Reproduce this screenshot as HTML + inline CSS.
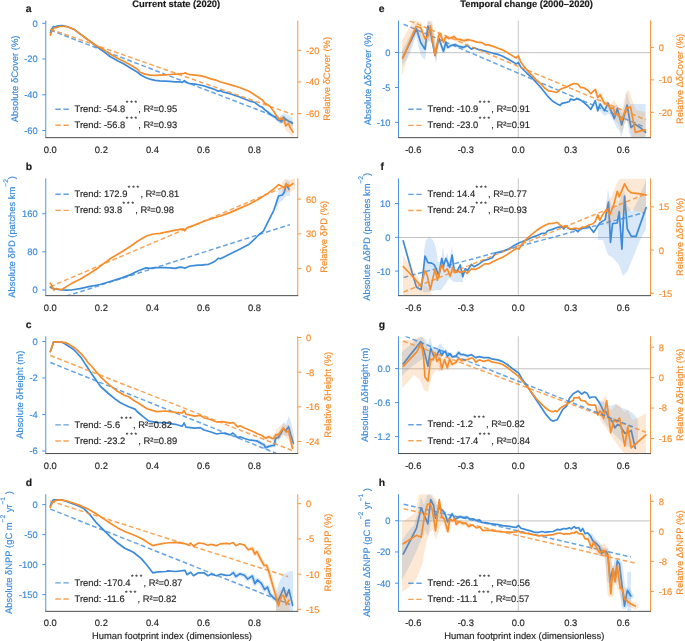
<!DOCTYPE html>
<html><head><meta charset="utf-8"><style>
html,body{margin:0;padding:0;background:#fff;}
svg{display:block;will-change:transform;text-rendering:geometricPrecision;}
svg text{font-family:"Liberation Sans",sans-serif;}
</style></head><body>
<svg width="685" height="641" viewBox="0 0 685 641" font-size="9.4" font-family="Liberation Sans, sans-serif">
<rect width="685" height="641" fill="#fff"/>
<g id="pa">
<clipPath id="clipa"><rect x="45.75" y="20.5" width="252.0" height="116.80000000000001"/></clipPath>
<g clip-path="url(#clipa)">
<polygon points="276.0,115.0 280.0,117.0 283.6,113.0 288.0,115.0 292.5,118.0 293.0,126.0 290.0,126.0 286.0,123.0 283.6,122.0 280.0,124.0 276.0,120.0" fill="#3c8ada" fill-opacity="0.2" stroke="none"/>
<polyline points="268.2,112.4 271.9,115.3 275.5,117.5 277.7,119.6 279.9,120.4 281.4,121.9 283.6,117.5" fill="none" stroke="#3c8ada" stroke-opacity="0.2" stroke-width="3.5" stroke-linejoin="round" stroke-linecap="round"/>
<line x1="50.3" y1="30.2" x2="293" y2="123.3" stroke="#3c8ada" stroke-width="1.5" stroke-dasharray="4.8,2.7" opacity="0.78"/>
<polyline points="50.4,32.9 51.6,29.4 53.3,26.6 55.5,26.8 58.1,25.9 62.5,25.7 65.6,26.3 69.5,27.5 74.8,29.8 80.0,33.8 85.3,37.7 90.5,41.7 95.8,46.0 101.0,49.5 105.0,52.6 110.0,56.5 118.0,61.0 124.0,64.0 128.0,66.5 137.5,72.2 140.0,74.5 145.0,77.2 150.0,79.2 155.0,80.3 160.0,80.9 165.0,81.1 170.0,81.3 175.0,81.8 180.0,81.8 182.0,82.5 184.5,80.6 187.0,82.7 190.0,83.6 195.0,84.1 200.0,85.0 205.0,86.2 210.0,87.9 215.0,89.5 218.0,91.2 220.5,90.6 223.0,92.0 226.0,92.6 230.0,93.8 239.6,97.0 249.0,100.8 250.0,101.1 254.4,102.2 259.5,106.2 261.7,106.9 264.6,109.5 268.2,112.4 271.9,115.3 275.5,117.5 277.7,119.6 279.9,120.4 281.4,121.9 283.6,117.5 285.8,119.3 288.7,121.2 290.9,121.9 292.3,123.4" fill="none" stroke="#3c8ada" stroke-width="1.7" stroke-linejoin="round" stroke-linecap="round"/>
<polygon points="280.0,115.0 283.6,116.0 286.0,119.0 289.0,119.0 293.0,124.0 293.0,137.5 289.0,133.0 286.0,131.0 283.6,124.0 280.0,122.0" fill="#f78c2b" fill-opacity="0.2" stroke="none"/>
<line x1="50.3" y1="29.2" x2="293" y2="114.5" stroke="#f78c2b" stroke-width="1.5" stroke-dasharray="4.8,2.7" opacity="0.78"/>
<polyline points="50.4,35.1 51.6,31.6 52.9,29.4 54.2,27.8 56.4,27.6 59.9,26.5 65.6,26.3 69.5,27.5 74.8,29.8 80.0,33.8 85.3,37.7 90.5,41.5 95.8,45.2 101.0,48.2 105.0,50.6 110.0,54.0 118.0,58.5 124.0,61.5 128.0,63.6 137.5,69.3 140.0,72.2 145.0,74.1 150.0,75.1 155.0,75.3 160.0,75.1 165.0,74.8 170.0,74.5 175.0,74.2 180.0,73.9 184.0,73.3 185.5,72.9 187.5,74.0 190.0,74.7 195.0,75.1 200.0,75.7 205.0,76.8 210.0,78.6 215.0,79.8 220.0,81.8 230.0,84.6 239.6,87.5 249.0,91.3 258.6,97.5 262.4,100.0 264.6,102.9 268.2,105.1 270.4,106.9 273.4,110.9 276.3,115.3 278.8,119.3 280.7,118.6 282.1,118.2 283.6,119.7 285.8,125.9 288.3,123.7 290.5,128.1 293.1,132.1" fill="none" stroke="#f78c2b" stroke-width="1.7" stroke-linejoin="round" stroke-linecap="round"/>
</g>
<line x1="45.75" y1="20.5" x2="45.75" y2="137.65" stroke="#3c8ada" stroke-width="0.9"/>
<line x1="297.75" y1="20.5" x2="297.75" y2="137.65" stroke="#f78c2b" stroke-width="0.9"/>
<line x1="45.3" y1="137.65" x2="298.2" y2="137.65" stroke="#383838" stroke-width="0.9"/>
<line x1="42.25" y1="23.30" x2="45.75" y2="23.30" stroke="#3c8ada" stroke-width="0.9"/>
<text x="37.75" y="26.70" text-anchor="end" fill="#3c8ada" stroke="#3c8ada" stroke-width="0.16">0</text>
<line x1="42.25" y1="59.03" x2="45.75" y2="59.03" stroke="#3c8ada" stroke-width="0.9"/>
<text x="37.75" y="62.43" text-anchor="end" fill="#3c8ada" stroke="#3c8ada" stroke-width="0.16">-20</text>
<line x1="42.25" y1="94.77" x2="45.75" y2="94.77" stroke="#3c8ada" stroke-width="0.9"/>
<text x="37.75" y="98.17" text-anchor="end" fill="#3c8ada" stroke="#3c8ada" stroke-width="0.16">-40</text>
<line x1="42.25" y1="130.50" x2="45.75" y2="130.50" stroke="#3c8ada" stroke-width="0.9"/>
<text x="37.75" y="133.90" text-anchor="end" fill="#3c8ada" stroke="#3c8ada" stroke-width="0.16">-60</text>
<line x1="297.75" y1="50.30" x2="301.25" y2="50.30" stroke="#f78c2b" stroke-width="0.9"/>
<text x="305.95" y="53.70" fill="#f78c2b" stroke="#f78c2b" stroke-width="0.16">-20</text>
<line x1="297.75" y1="81.90" x2="301.25" y2="81.90" stroke="#f78c2b" stroke-width="0.9"/>
<text x="305.95" y="85.30" fill="#f78c2b" stroke="#f78c2b" stroke-width="0.16">-40</text>
<line x1="297.75" y1="113.50" x2="301.25" y2="113.50" stroke="#f78c2b" stroke-width="0.9"/>
<text x="305.95" y="116.90" fill="#f78c2b" stroke="#f78c2b" stroke-width="0.16">-60</text>
<text x="50.30" y="152.60" text-anchor="middle" fill="#262626" stroke="#262626" stroke-width="0.16">0.0</text>
<text x="101.35" y="152.60" text-anchor="middle" fill="#262626" stroke="#262626" stroke-width="0.16">0.2</text>
<text x="152.40" y="152.60" text-anchor="middle" fill="#262626" stroke="#262626" stroke-width="0.16">0.4</text>
<text x="203.45" y="152.60" text-anchor="middle" fill="#262626" stroke="#262626" stroke-width="0.16">0.6</text>
<text x="254.50" y="152.60" text-anchor="middle" fill="#262626" stroke="#262626" stroke-width="0.16">0.8</text>
<text transform="translate(18.1,78.90) rotate(-90)" text-anchor="middle" fill="#3c8ada" stroke="#3c8ada" stroke-width="0.16" xml:space="preserve">Absolute δCover (%)</text>
<text transform="translate(330.3,78.90) rotate(-90)" text-anchor="middle" fill="#f78c2b" stroke="#f78c2b" stroke-width="0.16">Relative δCover (%)</text>
<text x="25.8" y="11.90" font-weight="bold" font-size="10.4" fill="#1a1a1a" stroke="#1a1a1a" stroke-width="0.16">a</text>
<line x1="55.3" y1="109.20" x2="68.8" y2="109.20" stroke="#3c8ada" stroke-width="1.4" stroke-dasharray="5.5,2.6" opacity="0.8"/>
<text x="74.6" y="111.90" fill="#262626" stroke="#262626" stroke-width="0.16" xml:space="preserve">Trend: -54.8<tspan font-size="6.6" dy="-7" dx="0.4" stroke-width="0.12">* * *</tspan><tspan dy="7" dx="1.2" font-size="9.4">, R²=0.95</tspan></text>
<line x1="55.3" y1="125.30" x2="68.8" y2="125.30" stroke="#f78c2b" stroke-width="1.4" stroke-dasharray="5.5,2.6" opacity="0.8"/>
<text x="74.6" y="128.00" fill="#262626" stroke="#262626" stroke-width="0.16" xml:space="preserve">Trend: -56.8<tspan font-size="6.6" dy="-7" dx="0.4" stroke-width="0.12">* * *</tspan><tspan dy="7" dx="1.2" font-size="9.4">, R²=0.93</tspan></text>
</g>
<g id="pb">
<clipPath id="clipb"><rect x="45.75" y="178.4" width="252.0" height="116.9"/></clipPath>
<g clip-path="url(#clipb)">
<polygon points="276.0,200.0 279.0,190.0 283.0,189.0 286.0,180.0 290.0,182.0 290.0,196.0 286.0,196.0 283.0,200.0 279.0,203.0 276.0,212.0" fill="#3c8ada" fill-opacity="0.2" stroke="none"/>
<line x1="66" y1="296.3" x2="290" y2="224.6" stroke="#3c8ada" stroke-width="1.5" stroke-dasharray="4.8,2.7" opacity="0.78"/>
<polyline points="50.3,287.2 52.9,288.5 58.1,289.3 62.5,289.8 66.9,290.2 71.3,290.0 80.0,288.7 88.8,286.7 97.6,285.0 100.0,284.5 110.9,281.2 121.9,277.9 130.6,274.6 138.3,270.8 145.9,267.9 150.0,268.3 155.0,267.6 160.0,267.5 165.0,267.7 170.0,267.8 175.0,268.3 180.0,267.1 182.5,267.3 184.7,268.3 187.0,267.2 190.0,266.0 194.0,265.6 198.0,265.2 202.0,265.1 205.0,264.7 208.0,264.5 211.0,263.3 214.0,261.8 218.0,258.6 218.6,258.2 220.5,258.8 230.0,254.0 239.6,249.3 249.1,244.2 252.9,240.7 258.6,235.0 263.4,231.2 268.1,221.7 273.8,210.3 278.6,196.0 282.4,195.0 284.3,192.2 286.2,184.0 289.0,189.3" fill="none" stroke="#3c8ada" stroke-width="1.7" stroke-linejoin="round" stroke-linecap="round"/>
<polygon points="282.0,182.0 286.0,178.0 290.0,180.0 295.0,177.0 295.0,190.0 290.0,192.0 286.0,192.0 282.0,192.0" fill="#f78c2b" fill-opacity="0.2" stroke="none"/>
<line x1="50.3" y1="286.7" x2="292" y2="183.5" stroke="#f78c2b" stroke-width="1.5" stroke-dasharray="4.8,2.7" opacity="0.78"/>
<polyline points="50.3,283.2 51.6,285.4 52.9,288.0 53.8,290.2 55.1,288.9 56.4,288.5 59.0,289.3 61.2,290.0 63.4,288.5 71.3,283.6 80.0,279.3 88.8,274.0 97.6,268.2 100.0,266.4 110.9,258.3 121.9,251.7 130.6,246.2 138.3,240.8 147.0,235.8 153.6,234.0 160.0,233.3 166.0,232.1 175.5,230.2 183.1,228.9 184.7,230.8 187.0,227.7 194.6,225.1 204.0,221.3 213.0,218.3 220.5,216.0 230.0,212.6 239.6,208.4 249.1,204.2 258.6,199.2 268.1,193.1 273.8,188.9 278.6,184.6 284.3,187.8 286.2,184.0 289.0,186.5 292.9,183.6" fill="none" stroke="#f78c2b" stroke-width="1.7" stroke-linejoin="round" stroke-linecap="round"/>
</g>
<line x1="45.75" y1="178.4" x2="45.75" y2="295.65000000000003" stroke="#3c8ada" stroke-width="0.9"/>
<line x1="297.75" y1="178.4" x2="297.75" y2="295.65000000000003" stroke="#f78c2b" stroke-width="0.9"/>
<line x1="45.3" y1="295.65000000000003" x2="298.2" y2="295.65000000000003" stroke="#383838" stroke-width="0.9"/>
<line x1="42.25" y1="290.00" x2="45.75" y2="290.00" stroke="#3c8ada" stroke-width="0.9"/>
<text x="37.75" y="293.40" text-anchor="end" fill="#3c8ada" stroke="#3c8ada" stroke-width="0.16">0</text>
<line x1="42.25" y1="251.85" x2="45.75" y2="251.85" stroke="#3c8ada" stroke-width="0.9"/>
<text x="37.75" y="255.25" text-anchor="end" fill="#3c8ada" stroke="#3c8ada" stroke-width="0.16">80</text>
<line x1="42.25" y1="213.70" x2="45.75" y2="213.70" stroke="#3c8ada" stroke-width="0.9"/>
<text x="37.75" y="217.10" text-anchor="end" fill="#3c8ada" stroke="#3c8ada" stroke-width="0.16">160</text>
<line x1="297.75" y1="268.60" x2="301.25" y2="268.60" stroke="#f78c2b" stroke-width="0.9"/>
<text x="305.95" y="272.00" fill="#f78c2b" stroke="#f78c2b" stroke-width="0.16">0</text>
<line x1="297.75" y1="233.85" x2="301.25" y2="233.85" stroke="#f78c2b" stroke-width="0.9"/>
<text x="305.95" y="237.25" fill="#f78c2b" stroke="#f78c2b" stroke-width="0.16">30</text>
<line x1="297.75" y1="199.10" x2="301.25" y2="199.10" stroke="#f78c2b" stroke-width="0.9"/>
<text x="305.95" y="202.50" fill="#f78c2b" stroke="#f78c2b" stroke-width="0.16">60</text>
<text x="50.30" y="310.60" text-anchor="middle" fill="#262626" stroke="#262626" stroke-width="0.16">0.0</text>
<text x="101.35" y="310.60" text-anchor="middle" fill="#262626" stroke="#262626" stroke-width="0.16">0.2</text>
<text x="152.40" y="310.60" text-anchor="middle" fill="#262626" stroke="#262626" stroke-width="0.16">0.4</text>
<text x="203.45" y="310.60" text-anchor="middle" fill="#262626" stroke="#262626" stroke-width="0.16">0.6</text>
<text x="254.50" y="310.60" text-anchor="middle" fill="#262626" stroke="#262626" stroke-width="0.16">0.8</text>
<text transform="translate(14.8,236.85) rotate(-90)" text-anchor="middle" fill="#3c8ada" stroke="#3c8ada" stroke-width="0.16" xml:space="preserve">Absolute δPD (patches km<tspan dy="-6.6" font-size="6.6">−2</tspan><tspan dy="6.6" font-size="9.4">)</tspan></text>
<text transform="translate(327.0,236.85) rotate(-90)" text-anchor="middle" fill="#f78c2b" stroke="#f78c2b" stroke-width="0.16">Relative δPD (%)</text>
<text x="25.8" y="169.80" font-weight="bold" font-size="10.4" fill="#1a1a1a" stroke="#1a1a1a" stroke-width="0.16">b</text>
<line x1="55.3" y1="194.30" x2="68.8" y2="194.30" stroke="#3c8ada" stroke-width="1.4" stroke-dasharray="5.5,2.6" opacity="0.8"/>
<text x="74.6" y="197.00" fill="#262626" stroke="#262626" stroke-width="0.16" xml:space="preserve">Trend: 172.9<tspan font-size="6.6" dy="-7" dx="0.4" stroke-width="0.12">* * *</tspan><tspan dy="7" dx="1.2" font-size="9.4">, R²=0.81</tspan></text>
<line x1="55.3" y1="210.40" x2="68.8" y2="210.40" stroke="#f78c2b" stroke-width="1.4" stroke-dasharray="5.5,2.6" opacity="0.8"/>
<text x="74.6" y="213.10" fill="#262626" stroke="#262626" stroke-width="0.16" xml:space="preserve">Trend: 93.8<tspan font-size="6.6" dy="-7" dx="0.4" stroke-width="0.12">* * *</tspan><tspan dy="7" dx="1.2" font-size="9.4">, R²=0.98</tspan></text>
</g>
<g id="pc">
<clipPath id="clipc"><rect x="45.75" y="336.3" width="252.0" height="116.89999999999998"/></clipPath>
<g clip-path="url(#clipc)">
<polygon points="278.0,434.0 281.0,428.0 284.0,422.0 286.0,424.0 288.6,416.0 291.0,422.0 294.0,436.0 294.0,446.0 291.0,440.0 288.6,436.0 286.0,436.0 284.0,435.0 281.0,438.0 278.0,441.0" fill="#3c8ada" fill-opacity="0.2" stroke="none"/>
<polyline points="257.5,441.2 261.9,443.8 264.0,444.7 265.4,447.7 268.9,446.4 272.4,445.5 274.2,445.5 275.5,438.5 278.5,437.2" fill="none" stroke="#3c8ada" stroke-opacity="0.2" stroke-width="4" stroke-linejoin="round" stroke-linecap="round"/>
<line x1="50.3" y1="362.5" x2="275.9" y2="453.2" stroke="#3c8ada" stroke-width="1.5" stroke-dasharray="4.8,2.7" opacity="0.78"/>
<polyline points="50.3,351.5 51.0,350.0 53.5,341.9 58.0,341.9 62.0,342.3 65.6,344.2 69.0,346.5 73.4,349.3 77.0,353.0 81.2,357.8 85.0,363.6 87.4,367.2 92.8,375.6 96.7,381.1 100.6,386.5 108.4,393.5 116.2,399.8 120.1,402.5 124.0,404.5 128.7,406.8 135.0,409.1 137.5,412.0 143.2,416.7 148.9,421.1 156.5,422.4 166.0,423.0 175.5,424.3 182.2,426.2 184.1,423.0 186.0,427.2 194.6,428.1 200.3,427.6 204.0,430.0 211.0,432.0 216.7,434.0 222.4,433.0 230.0,434.9 232.9,433.0 237.7,437.7 240.0,436.8 244.4,438.5 248.8,439.8 253.1,440.3 257.5,441.2 261.9,443.8 264.0,444.7 265.4,447.7 268.9,446.4 272.4,445.5 274.2,445.5 275.5,438.5 278.5,437.2 281.2,432.8 283.3,428.9 286.0,430.2 288.6,426.7 290.8,435.0 293.4,443.3" fill="none" stroke="#3c8ada" stroke-width="1.7" stroke-linejoin="round" stroke-linecap="round"/>
<polygon points="276.0,430.0 280.0,426.0 283.3,423.0 286.0,426.0 288.6,424.0 291.0,430.0 294.0,442.0 294.0,452.0 291.0,447.0 288.6,440.0 286.0,438.0 283.3,434.0 280.0,437.0 276.0,440.0" fill="#f78c2b" fill-opacity="0.2" stroke="none"/>
<polyline points="265.4,438.1 268.9,436.8 272.4,438.5 273.7,438.5 275.9,434.6 278.5,435.0" fill="none" stroke="#f78c2b" stroke-opacity="0.2" stroke-width="4" stroke-linejoin="round" stroke-linecap="round"/>
<line x1="50.3" y1="355.5" x2="292" y2="450.5" stroke="#f78c2b" stroke-width="1.5" stroke-dasharray="4.8,2.7" opacity="0.78"/>
<polyline points="50.3,351.5 51.0,350.0 53.5,341.9 58.0,341.9 62.0,342.1 66.0,342.9 68.0,343.8 70.0,345.0 73.4,346.9 77.0,349.8 81.2,353.9 85.0,358.2 87.4,361.7 92.8,367.8 100.6,376.8 108.4,384.2 116.2,390.4 124.0,395.1 128.7,396.7 135.0,401.3 137.5,402.5 147.0,408.7 156.5,411.6 166.0,411.0 175.5,412.3 182.2,412.9 184.1,410.6 186.0,414.2 194.6,416.1 200.3,415.4 204.0,417.7 211.0,419.7 216.7,422.0 222.4,421.6 230.0,423.1 233.5,422.5 237.7,426.9 240.0,425.8 244.4,428.0 248.8,429.8 253.1,431.5 257.5,433.7 261.9,435.5 265.4,438.1 268.9,436.8 272.4,438.5 273.7,438.5 275.9,434.6 278.5,435.0 280.7,431.5 283.3,428.0 286.0,432.0 288.6,431.1 290.4,439.4 292.5,448.2" fill="none" stroke="#f78c2b" stroke-width="1.7" stroke-linejoin="round" stroke-linecap="round"/>
</g>
<line x1="45.75" y1="336.3" x2="45.75" y2="453.55" stroke="#3c8ada" stroke-width="0.9"/>
<line x1="297.75" y1="336.3" x2="297.75" y2="453.55" stroke="#f78c2b" stroke-width="0.9"/>
<line x1="45.3" y1="453.55" x2="298.2" y2="453.55" stroke="#383838" stroke-width="0.9"/>
<line x1="42.25" y1="341.50" x2="45.75" y2="341.50" stroke="#3c8ada" stroke-width="0.9"/>
<text x="37.75" y="344.90" text-anchor="end" fill="#3c8ada" stroke="#3c8ada" stroke-width="0.16">0</text>
<line x1="42.25" y1="378.00" x2="45.75" y2="378.00" stroke="#3c8ada" stroke-width="0.9"/>
<text x="37.75" y="381.40" text-anchor="end" fill="#3c8ada" stroke="#3c8ada" stroke-width="0.16">-2</text>
<line x1="42.25" y1="414.50" x2="45.75" y2="414.50" stroke="#3c8ada" stroke-width="0.9"/>
<text x="37.75" y="417.90" text-anchor="end" fill="#3c8ada" stroke="#3c8ada" stroke-width="0.16">-4</text>
<line x1="42.25" y1="451.00" x2="45.75" y2="451.00" stroke="#3c8ada" stroke-width="0.9"/>
<text x="37.75" y="454.40" text-anchor="end" fill="#3c8ada" stroke="#3c8ada" stroke-width="0.16">-6</text>
<line x1="297.75" y1="337.50" x2="301.25" y2="337.50" stroke="#f78c2b" stroke-width="0.9"/>
<text x="305.95" y="340.90" fill="#f78c2b" stroke="#f78c2b" stroke-width="0.16">0</text>
<line x1="297.75" y1="372.17" x2="301.25" y2="372.17" stroke="#f78c2b" stroke-width="0.9"/>
<text x="305.95" y="375.57" fill="#f78c2b" stroke="#f78c2b" stroke-width="0.16">-8</text>
<line x1="297.75" y1="406.83" x2="301.25" y2="406.83" stroke="#f78c2b" stroke-width="0.9"/>
<text x="305.95" y="410.23" fill="#f78c2b" stroke="#f78c2b" stroke-width="0.16">-16</text>
<line x1="297.75" y1="441.50" x2="301.25" y2="441.50" stroke="#f78c2b" stroke-width="0.9"/>
<text x="305.95" y="444.90" fill="#f78c2b" stroke="#f78c2b" stroke-width="0.16">-24</text>
<text x="50.30" y="468.50" text-anchor="middle" fill="#262626" stroke="#262626" stroke-width="0.16">0.0</text>
<text x="101.35" y="468.50" text-anchor="middle" fill="#262626" stroke="#262626" stroke-width="0.16">0.2</text>
<text x="152.40" y="468.50" text-anchor="middle" fill="#262626" stroke="#262626" stroke-width="0.16">0.4</text>
<text x="203.45" y="468.50" text-anchor="middle" fill="#262626" stroke="#262626" stroke-width="0.16">0.6</text>
<text x="254.50" y="468.50" text-anchor="middle" fill="#262626" stroke="#262626" stroke-width="0.16">0.8</text>
<text transform="translate(23.4,394.75) rotate(-90)" text-anchor="middle" fill="#3c8ada" stroke="#3c8ada" stroke-width="0.16" xml:space="preserve">Absolute δHeight (m)</text>
<text transform="translate(330.6,394.75) rotate(-90)" text-anchor="middle" fill="#f78c2b" stroke="#f78c2b" stroke-width="0.16">Relative δHeight (%)</text>
<text x="25.8" y="327.70" font-weight="bold" font-size="10.4" fill="#1a1a1a" stroke="#1a1a1a" stroke-width="0.16">c</text>
<line x1="55.3" y1="424.90" x2="68.8" y2="424.90" stroke="#3c8ada" stroke-width="1.4" stroke-dasharray="5.5,2.6" opacity="0.8"/>
<text x="74.6" y="427.60" fill="#262626" stroke="#262626" stroke-width="0.16" xml:space="preserve">Trend: -5.6<tspan font-size="6.6" dy="-7" dx="0.4" stroke-width="0.12">* * *</tspan><tspan dy="7" dx="1.2" font-size="9.4">, R²=0.82</tspan></text>
<line x1="55.3" y1="441.00" x2="68.8" y2="441.00" stroke="#f78c2b" stroke-width="1.4" stroke-dasharray="5.5,2.6" opacity="0.8"/>
<text x="74.6" y="443.70" fill="#262626" stroke="#262626" stroke-width="0.16" xml:space="preserve">Trend: -23.2<tspan font-size="6.6" dy="-7" dx="0.4" stroke-width="0.12">* * *</tspan><tspan dy="7" dx="1.2" font-size="9.4">, R²=0.89</tspan></text>
</g>
<g id="pd">
<clipPath id="clipd"><rect x="45.75" y="494.2" width="252.0" height="116.80000000000001"/></clipPath>
<g clip-path="url(#clipd)">
<polygon points="276.0,592.0 280.0,580.0 284.0,574.0 288.0,572.0 290.0,571.0 293.0,571.0 293.0,611.0 276.0,611.0" fill="#3c8ada" fill-opacity="0.2" stroke="none"/>
<polyline points="233.3,572.6 235.9,576.5 239.8,573.9 244.4,575.2 247.7,579.1 252.3,575.9 254.9,583.7 257.5,579.8 261.5,583.7 264.7,589.6 267.4,587.0 270.0,594.2 274.6,598.8 277.8,601.4" fill="none" stroke="#3c8ada" stroke-opacity="0.2" stroke-width="4.5" stroke-linejoin="round" stroke-linecap="round"/>
<line x1="50.3" y1="509.1" x2="290" y2="604.5" stroke="#3c8ada" stroke-width="1.5" stroke-dasharray="4.8,2.7" opacity="0.78"/>
<polyline points="50.3,506.3 51.5,502.5 53.5,499.8 61.7,499.8 68.7,502.2 78.0,505.7 83.9,508.6 89.7,514.4 96.7,523.2 103.7,530.2 110.7,537.2 117.7,543.0 124.7,548.3 130.0,550.6 133.7,552.5 141.3,558.6 147.0,565.2 152.7,572.8 158.4,571.9 166.0,571.5 167.9,570.9 175.5,571.5 185.0,570.3 187.0,574.7 190.7,572.2 193.6,575.7 198.4,572.8 204.0,572.8 207.9,575.7 211.0,574.2 216.7,575.8 220.5,574.2 226.2,575.4 230.0,575.2 233.3,572.6 235.9,576.5 239.8,573.9 244.4,575.2 247.7,579.1 252.3,575.9 254.9,583.7 257.5,579.8 261.5,583.7 264.7,589.6 267.4,587.0 270.0,594.2 274.6,598.8 277.8,601.4 281.1,594.2 283.7,587.7 286.4,596.8 289.0,589.6 292.6,605.4" fill="none" stroke="#3c8ada" stroke-width="1.7" stroke-linejoin="round" stroke-linecap="round"/>
<polygon points="276.0,595.0 280.0,590.0 284.0,589.0 289.0,592.0 290.0,611.0 276.0,611.0" fill="#f78c2b" fill-opacity="0.2" stroke="none"/>
<polyline points="248.3,549.7 252.3,548.3 254.9,554.2 256.9,551.6 260.8,559.5 264.1,565.4 266.7,565.4 269.3,573.2 278.5,605.4" fill="none" stroke="#f78c2b" stroke-opacity="0.2" stroke-width="4.0" stroke-linejoin="round" stroke-linecap="round"/>
<line x1="50.3" y1="501.1" x2="288.1" y2="576.7" stroke="#f78c2b" stroke-width="1.5" stroke-dasharray="4.8,2.7" opacity="0.78"/>
<polyline points="50.3,507.5 52.0,503.5 53.5,501.6 56.0,500.4 60.5,499.8 67.5,501.2 73.5,503.0 79.2,505.1 88.5,509.2 99.0,515.6 108.4,522.0 117.7,527.9 125.9,532.0 130.0,533.5 135.6,535.7 143.2,539.5 148.9,543.3 152.7,545.6 158.4,544.3 166.0,543.0 175.5,542.4 185.0,543.7 188.8,544.9 190.7,543.0 193.6,546.2 198.4,543.0 204.0,543.7 207.9,545.2 211.0,544.4 216.7,545.7 220.5,543.8 226.2,543.4 230.0,543.8 233.3,542.5 235.9,545.7 239.8,543.8 244.4,545.1 248.3,549.7 252.3,548.3 254.9,554.2 256.9,551.6 260.8,559.5 264.1,565.4 266.7,565.4 269.3,573.2 278.5,605.4 281.8,595.5 283.7,595.5 286.4,604.7 289.0,600.1" fill="none" stroke="#f78c2b" stroke-width="1.7" stroke-linejoin="round" stroke-linecap="round"/>
</g>
<line x1="45.75" y1="494.2" x2="45.75" y2="611.35" stroke="#3c8ada" stroke-width="0.9"/>
<line x1="297.75" y1="494.2" x2="297.75" y2="611.35" stroke="#f78c2b" stroke-width="0.9"/>
<line x1="45.3" y1="611.35" x2="298.2" y2="611.35" stroke="#383838" stroke-width="0.9"/>
<line x1="42.25" y1="504.60" x2="45.75" y2="504.60" stroke="#3c8ada" stroke-width="0.9"/>
<text x="37.75" y="508.00" text-anchor="end" fill="#3c8ada" stroke="#3c8ada" stroke-width="0.16">0</text>
<line x1="42.25" y1="534.60" x2="45.75" y2="534.60" stroke="#3c8ada" stroke-width="0.9"/>
<text x="37.75" y="538.00" text-anchor="end" fill="#3c8ada" stroke="#3c8ada" stroke-width="0.16">-50</text>
<line x1="42.25" y1="564.60" x2="45.75" y2="564.60" stroke="#3c8ada" stroke-width="0.9"/>
<text x="37.75" y="568.00" text-anchor="end" fill="#3c8ada" stroke="#3c8ada" stroke-width="0.16">-100</text>
<line x1="42.25" y1="594.60" x2="45.75" y2="594.60" stroke="#3c8ada" stroke-width="0.9"/>
<text x="37.75" y="598.00" text-anchor="end" fill="#3c8ada" stroke="#3c8ada" stroke-width="0.16">-150</text>
<line x1="297.75" y1="503.70" x2="301.25" y2="503.70" stroke="#f78c2b" stroke-width="0.9"/>
<text x="305.95" y="507.10" fill="#f78c2b" stroke="#f78c2b" stroke-width="0.16">0</text>
<line x1="297.75" y1="538.93" x2="301.25" y2="538.93" stroke="#f78c2b" stroke-width="0.9"/>
<text x="305.95" y="542.33" fill="#f78c2b" stroke="#f78c2b" stroke-width="0.16">-5</text>
<line x1="297.75" y1="574.17" x2="301.25" y2="574.17" stroke="#f78c2b" stroke-width="0.9"/>
<text x="305.95" y="577.57" fill="#f78c2b" stroke="#f78c2b" stroke-width="0.16">-10</text>
<line x1="297.75" y1="609.40" x2="301.25" y2="609.40" stroke="#f78c2b" stroke-width="0.9"/>
<text x="305.95" y="612.80" fill="#f78c2b" stroke="#f78c2b" stroke-width="0.16">-15</text>
<text x="50.30" y="626.30" text-anchor="middle" fill="#262626" stroke="#262626" stroke-width="0.16">0.0</text>
<text x="101.35" y="626.30" text-anchor="middle" fill="#262626" stroke="#262626" stroke-width="0.16">0.2</text>
<text x="152.40" y="626.30" text-anchor="middle" fill="#262626" stroke="#262626" stroke-width="0.16">0.4</text>
<text x="203.45" y="626.30" text-anchor="middle" fill="#262626" stroke="#262626" stroke-width="0.16">0.6</text>
<text x="254.50" y="626.30" text-anchor="middle" fill="#262626" stroke="#262626" stroke-width="0.16">0.8</text>
<text transform="translate(11.7,552.60) rotate(-90)" text-anchor="middle" fill="#3c8ada" stroke="#3c8ada" stroke-width="0.16" xml:space="preserve">Absolute δNPP (gC m<tspan dy="-6.6" font-size="6.6">−2</tspan><tspan dy="6.6" font-size="9.4"> yr</tspan><tspan dy="-6.6" font-size="6.6">−1</tspan><tspan dy="6.6" font-size="9.4"> )</tspan></text>
<text transform="translate(330.5,552.60) rotate(-90)" text-anchor="middle" fill="#f78c2b" stroke="#f78c2b" stroke-width="0.16">Relative δNPP (%)</text>
<text x="25.8" y="485.60" font-weight="bold" font-size="10.4" fill="#1a1a1a" stroke="#1a1a1a" stroke-width="0.16">d</text>
<line x1="55.3" y1="582.90" x2="68.8" y2="582.90" stroke="#3c8ada" stroke-width="1.4" stroke-dasharray="5.5,2.6" opacity="0.8"/>
<text x="74.6" y="585.60" fill="#262626" stroke="#262626" stroke-width="0.16" xml:space="preserve">Trend: -170.4<tspan font-size="6.6" dy="-7" dx="0.4" stroke-width="0.12">* * *</tspan><tspan dy="7" dx="1.2" font-size="9.4">, R²=0.87</tspan></text>
<line x1="55.3" y1="599.00" x2="68.8" y2="599.00" stroke="#f78c2b" stroke-width="1.4" stroke-dasharray="5.5,2.6" opacity="0.8"/>
<text x="74.6" y="601.70" fill="#262626" stroke="#262626" stroke-width="0.16" xml:space="preserve">Trend: -11.6<tspan font-size="6.6" dy="-7" dx="0.4" stroke-width="0.12">* * *</tspan><tspan dy="7" dx="1.2" font-size="9.4">, R²=0.82</tspan></text>
</g>
<g id="pe">
<clipPath id="clipe"><rect x="398.5" y="20.5" width="252.0" height="116.80000000000001"/></clipPath>
<line x1="398.5" y1="52.70" x2="650.5" y2="52.70" stroke="#c2c2c2" stroke-width="1.0"/>
<line x1="518.3" y1="20.5" x2="518.3" y2="137.3" stroke="#c2c2c2" stroke-width="0.9"/>
<g clip-path="url(#clipe)">
<polygon points="402.0,50.0 409.0,38.0 416.0,24.0 421.0,34.0 425.0,42.0 428.0,20.5 432.0,24.0 436.0,48.0 439.0,36.0 442.0,44.0 442.0,52.0 439.0,44.0 436.0,62.0 432.0,44.0 428.0,40.0 425.0,60.0 421.0,56.0 416.0,36.0 409.0,56.0 402.0,66.0" fill="#3c8ada" fill-opacity="0.2" stroke="none"/>
<polygon points="598.0,100.0 601.0,104.0 604.6,108.0 608.0,102.0 611.0,106.0 614.0,108.0 617.0,104.0 620.0,110.0 622.0,113.0 625.0,103.0 627.0,92.0 630.0,104.0 645.6,104.0 645.6,137.5 631.0,137.5 629.0,132.0 627.0,118.0 624.0,125.0 621.7,137.0 619.0,130.0 617.0,128.0 614.0,122.0 611.0,116.0 608.0,114.0 604.6,116.0 601.0,112.0 598.0,108.0" fill="#3c8ada" fill-opacity="0.2" stroke="none"/>
<polyline points="443.5,51.2 445.9,42.2 447.8,47.4 451.1,45.5 454.9,44.6 458.7,46.3 463.8,47.3 467.1,45.4" fill="none" stroke="#3c8ada" stroke-opacity="0.2" stroke-width="3.5" stroke-linejoin="round" stroke-linecap="round"/>
<line x1="403.6" y1="24.2" x2="642.7" y2="126.3" stroke="#3c8ada" stroke-width="1.5" stroke-dasharray="4.8,2.7" opacity="0.78"/>
<polyline points="402.7,57.9 416.5,28.9 420.8,42.7 425.0,49.3 427.9,26.1 430.7,33.2 435.0,55.5 438.8,38.4 443.5,51.2 445.9,42.2 447.8,47.4 451.1,45.5 454.9,44.6 458.7,46.3 463.8,47.3 467.1,45.4 471.4,49.2 474.2,47.8 479.0,49.7 483.7,50.6 488.5,52.0 493.2,53.3 498.0,54.4 502.7,56.3 507.4,58.7 512.2,61.5 516.5,63.9 518.4,62.5 520.7,66.8 526.7,73.0 531.5,77.3 536.2,82.5 541.0,87.7 544.8,92.5 548.6,97.2 552.4,101.0 557.1,103.9 560.0,105.3 561.9,103.4 566.6,102.4 569.4,101.5 570.4,99.1 574.2,100.1 576.6,98.7 580.8,100.1 583.7,102.4 587.9,106.0 590.9,109.4 595.3,100.6 597.7,110.9 600.2,104.0 604.6,110.9 608.0,103.0 610.9,110.4 614.3,118.7 617.3,108.4 621.7,125.0 627.1,105.0 631.0,127.5 634.9,124.1 640.8,128.0 645.6,132.4" fill="none" stroke="#3c8ada" stroke-width="1.7" stroke-linejoin="round" stroke-linecap="round"/>
<polygon points="402.0,40.0 409.0,28.0 414.0,20.5 421.0,22.0 425.0,34.0 428.0,20.5 432.0,20.5 436.0,44.0 439.0,30.0 442.0,36.0 442.0,44.0 439.0,42.0 436.0,64.0 432.0,38.0 428.0,42.0 425.0,46.0 421.0,36.0 416.0,34.0 409.0,52.0 402.0,76.0" fill="#f78c2b" fill-opacity="0.2" stroke="none"/>
<polygon points="596.0,88.0 598.0,95.0 600.0,91.0 604.0,100.0 607.0,101.0 611.0,104.0 614.0,99.6 618.0,108.0 622.0,110.0 626.0,92.0 629.0,89.8 632.0,100.0 636.0,110.0 645.6,112.0 645.6,137.5 632.0,137.5 630.0,128.0 626.0,120.0 622.0,133.0 619.0,125.0 615.0,120.0 611.0,113.0 607.0,108.0 603.0,106.0 600.0,100.0 596.0,96.0" fill="#f78c2b" fill-opacity="0.2" stroke="none"/>
<polyline points="440.2,33.7 443.5,42.2 445.9,36.5 448.3,38.4 451.1,37.9 454.0,36.5 456.8,39.4 459.7,39.4 463.8,40.7 468.5,39.7" fill="none" stroke="#f78c2b" stroke-opacity="0.2" stroke-width="3.5" stroke-linejoin="round" stroke-linecap="round"/>
<line x1="409.8" y1="20.9" x2="645.7" y2="119.8" stroke="#f78c2b" stroke-width="1.5" stroke-dasharray="4.8,2.7" opacity="0.78"/>
<polyline points="402.7,58.3 416.0,26.5 418.4,27.0 420.8,28.0 425.0,38.9 428.4,35.6 430.3,26.1 435.0,55.0 438.8,35.1 440.2,33.7 443.5,42.2 445.9,36.5 448.3,38.4 451.1,37.9 454.0,36.5 456.8,39.4 459.7,39.4 463.8,40.7 468.5,39.7 473.3,40.9 477.1,42.1 481.8,42.6 485.6,44.9 488.5,44.9 493.2,46.4 498.0,48.2 502.7,49.9 507.4,52.5 512.2,55.6 516.0,58.0 518.4,55.8 520.7,62.0 526.7,69.7 531.5,74.9 536.2,79.9 541.0,83.9 544.8,88.2 548.6,90.9 552.4,91.5 557.1,92.5 560.0,89.6 562.8,88.2 566.6,87.1 569.4,85.4 574.2,83.5 578.0,84.2 580.8,87.7 583.7,87.7 587.9,90.3 590.9,93.7 595.3,89.3 597.7,97.6 600.2,94.7 604.6,104.0 607.5,104.0 610.4,108.4 613.4,107.9 615.3,114.8 617.8,113.8 621.7,120.6 626.1,108.4 630.5,106.9 635.4,132.4 640.8,130.9 645.6,129.9" fill="none" stroke="#f78c2b" stroke-width="1.7" stroke-linejoin="round" stroke-linecap="round"/>
</g>
<line x1="398.5" y1="20.5" x2="398.5" y2="137.65" stroke="#3c8ada" stroke-width="0.9"/>
<line x1="650.5" y1="20.5" x2="650.5" y2="137.65" stroke="#f78c2b" stroke-width="0.9"/>
<line x1="398.05" y1="137.65" x2="650.95" y2="137.65" stroke="#383838" stroke-width="0.9"/>
<line x1="395.0" y1="52.50" x2="398.5" y2="52.50" stroke="#3c8ada" stroke-width="0.9"/>
<text x="390.5" y="55.90" text-anchor="end" fill="#3c8ada" stroke="#3c8ada" stroke-width="0.16">0</text>
<line x1="395.0" y1="87.45" x2="398.5" y2="87.45" stroke="#3c8ada" stroke-width="0.9"/>
<text x="390.5" y="90.85" text-anchor="end" fill="#3c8ada" stroke="#3c8ada" stroke-width="0.16">-5</text>
<line x1="395.0" y1="122.40" x2="398.5" y2="122.40" stroke="#3c8ada" stroke-width="0.9"/>
<text x="390.5" y="125.80" text-anchor="end" fill="#3c8ada" stroke="#3c8ada" stroke-width="0.16">-10</text>
<line x1="650.5" y1="47.40" x2="654.0" y2="47.40" stroke="#f78c2b" stroke-width="0.9"/>
<text x="658.7" y="50.80" fill="#f78c2b" stroke="#f78c2b" stroke-width="0.16">0</text>
<line x1="650.5" y1="79.85" x2="654.0" y2="79.85" stroke="#f78c2b" stroke-width="0.9"/>
<text x="658.7" y="83.25" fill="#f78c2b" stroke="#f78c2b" stroke-width="0.16">-10</text>
<line x1="650.5" y1="112.30" x2="654.0" y2="112.30" stroke="#f78c2b" stroke-width="0.9"/>
<text x="658.7" y="115.70" fill="#f78c2b" stroke="#f78c2b" stroke-width="0.16">-20</text>
<text x="413.30" y="152.60" text-anchor="middle" fill="#262626" stroke="#262626" stroke-width="0.16">-0.6</text>
<text x="465.80" y="152.60" text-anchor="middle" fill="#262626" stroke="#262626" stroke-width="0.16">-0.3</text>
<text x="518.30" y="152.60" text-anchor="middle" fill="#262626" stroke="#262626" stroke-width="0.16">0.0</text>
<text x="570.80" y="152.60" text-anchor="middle" fill="#262626" stroke="#262626" stroke-width="0.16">0.3</text>
<text x="623.30" y="152.60" text-anchor="middle" fill="#262626" stroke="#262626" stroke-width="0.16">0.6</text>
<text transform="translate(370.9,78.90) rotate(-90)" text-anchor="middle" fill="#3c8ada" stroke="#3c8ada" stroke-width="0.16" xml:space="preserve">Absolute ΔδCover (%)</text>
<text transform="translate(683.1,78.90) rotate(-90)" text-anchor="middle" fill="#f78c2b" stroke="#f78c2b" stroke-width="0.16">Relative ΔδCover (%)</text>
<text x="378.8" y="11.90" font-weight="bold" font-size="10.4" fill="#1a1a1a" stroke="#1a1a1a" stroke-width="0.16">e</text>
<line x1="408.2" y1="109.30" x2="421.7" y2="109.30" stroke="#3c8ada" stroke-width="1.4" stroke-dasharray="5.5,2.6" opacity="0.8"/>
<text x="427.5" y="112.00" fill="#262626" stroke="#262626" stroke-width="0.16" xml:space="preserve">Trend: -10.9<tspan font-size="6.6" dy="-7" dx="0.4" stroke-width="0.12">* * *</tspan><tspan dy="7" dx="1.2" font-size="9.4">, R²=0.91</tspan></text>
<line x1="408.2" y1="125.40" x2="421.7" y2="125.40" stroke="#f78c2b" stroke-width="1.4" stroke-dasharray="5.5,2.6" opacity="0.8"/>
<text x="427.5" y="128.10" fill="#262626" stroke="#262626" stroke-width="0.16" xml:space="preserve">Trend: -23.0<tspan font-size="6.6" dy="-7" dx="0.4" stroke-width="0.12">* * *</tspan><tspan dy="7" dx="1.2" font-size="9.4">, R²=0.91</tspan></text>
</g>
<g id="pf">
<clipPath id="clipf"><rect x="398.5" y="178.4" width="252.0" height="116.9"/></clipPath>
<line x1="398.5" y1="237.50" x2="650.5" y2="237.50" stroke="#c2c2c2" stroke-width="1.0"/>
<line x1="518.3" y1="178.4" x2="518.3" y2="295.3" stroke="#c2c2c2" stroke-width="0.9"/>
<g clip-path="url(#clipf)">
<polygon points="423.0,292.0 424.0,250.0 426.0,240.0 429.0,237.0 433.0,240.0 436.0,248.0 438.0,262.0 441.0,262.0 443.0,246.0 445.0,262.0 447.0,252.0 449.0,262.0 452.0,246.0 454.0,265.0 458.0,270.0 463.0,272.0 463.0,282.0 458.0,282.0 454.0,282.0 449.0,278.0 445.0,285.0 441.0,290.0 436.0,290.0 430.0,292.0" fill="#3c8ada" fill-opacity="0.2" stroke="none"/>
<polygon points="598.0,228.0 604.0,222.0 608.0,189.0 611.0,205.0 616.0,208.0 620.0,200.0 624.0,190.0 627.0,205.0 632.0,212.0 638.0,200.0 646.0,180.0 646.0,229.0 640.0,240.0 634.0,255.0 627.6,271.0 623.0,276.0 619.0,265.0 613.0,258.0 608.0,255.0 603.0,240.0 598.0,240.0" fill="#3c8ada" fill-opacity="0.2" stroke="none"/>
<line x1="403.6" y1="277.5" x2="644.6" y2="212.5" stroke="#3c8ada" stroke-width="1.5" stroke-dasharray="4.8,2.7" opacity="0.78"/>
<polyline points="403.2,240.8 412.2,273.1 416.5,287.3 421.2,289.7 425.0,256.0 427.9,262.7 431.7,263.1 434.1,264.6 436.0,268.4 438.8,276.0 441.7,258.4 443.5,265.5 445.9,258.4 449.7,267.4 452.1,255.1 454.0,269.3 456.8,272.2 460.2,265.0 462.8,276.7 465.2,268.7 467.6,270.5 471.4,264.4 474.2,266.8 479.0,263.9 483.7,260.6 488.5,259.2 492.3,257.7 496.1,252.5 499.9,252.5 504.6,250.6 509.3,248.7 514.1,245.4 518.8,243.0 522.0,241.8 526.7,239.9 531.5,237.5 536.2,235.9 541.0,233.7 545.7,233.0 547.6,230.8 552.4,229.4 557.1,227.5 560.0,226.8 562.8,227.5 563.8,228.9 565.7,226.1 569.4,228.9 572.3,229.4 575.1,229.4 578.0,231.8 579.9,228.9 582.7,228.5 585.0,227.7 589.0,226.3 591.0,229.0 593.7,232.4 597.1,227.0 599.8,223.0 605.1,219.6 608.5,202.2 610.5,242.5 612.5,223.7 617.2,223.0 619.2,211.6 621.9,249.2 624.6,196.1 627.3,229.0 631.3,236.4 636.0,236.4 646.1,207.6" fill="none" stroke="#3c8ada" stroke-width="1.7" stroke-linejoin="round" stroke-linecap="round"/>
<polygon points="403.0,255.0 412.0,268.0 421.0,283.0 428.0,288.0 432.0,295.3 403.0,295.3" fill="#f78c2b" fill-opacity="0.2" stroke="none"/>
<polygon points="606.0,205.0 612.0,195.0 616.0,185.0 620.0,178.4 646.0,178.4 646.0,213.0 640.0,212.0 632.0,210.0 627.0,212.0 620.0,215.0 612.0,222.0 606.0,225.0" fill="#f78c2b" fill-opacity="0.2" stroke="none"/>
<line x1="403.6" y1="292" x2="644.6" y2="194.4" stroke="#f78c2b" stroke-width="1.5" stroke-dasharray="4.8,2.7" opacity="0.78"/>
<polyline points="403.2,266.5 412.2,276.0 420.8,285.9 425.0,270.7 427.4,276.0 430.3,289.7 435.0,269.3 437.4,280.2 441.7,264.6 444.5,271.7 447.3,268.8 450.2,276.4 452.6,267.4 454.9,272.6 458.7,271.2 460.0,272.4 464.7,271.0 467.1,273.4 471.4,268.7 475.2,269.6 479.0,267.7 484.7,263.9 488.5,263.9 493.2,261.5 498.0,259.2 502.7,257.3 507.4,254.4 512.2,251.1 516.9,248.2 518.8,249.2 521.7,244.5 526.7,238.9 531.5,234.6 536.2,230.8 541.0,227.5 545.7,225.1 548.6,223.7 552.4,223.5 557.1,222.3 560.0,224.9 562.8,227.0 565.7,225.6 569.4,228.5 572.3,228.9 575.1,228.0 578.9,228.9 582.7,227.0 585.0,227.0 589.0,225.0 593.1,223.7 595.1,221.7 597.8,214.9 599.8,220.3 602.5,214.9 606.5,209.6 609.8,214.9 613.9,204.2 617.2,191.4 619.2,196.8 624.6,183.8 628.0,190.1 631.3,192.8 638.7,193.7 646.1,194.8" fill="none" stroke="#f78c2b" stroke-width="1.7" stroke-linejoin="round" stroke-linecap="round"/>
</g>
<line x1="398.5" y1="178.4" x2="398.5" y2="295.65000000000003" stroke="#3c8ada" stroke-width="0.9"/>
<line x1="650.5" y1="178.4" x2="650.5" y2="295.65000000000003" stroke="#f78c2b" stroke-width="0.9"/>
<line x1="398.05" y1="295.65000000000003" x2="650.95" y2="295.65000000000003" stroke="#383838" stroke-width="0.9"/>
<line x1="395.0" y1="271.10" x2="398.5" y2="271.10" stroke="#3c8ada" stroke-width="0.9"/>
<text x="390.5" y="274.50" text-anchor="end" fill="#3c8ada" stroke="#3c8ada" stroke-width="0.16">-10</text>
<line x1="395.0" y1="237.30" x2="398.5" y2="237.30" stroke="#3c8ada" stroke-width="0.9"/>
<text x="390.5" y="240.70" text-anchor="end" fill="#3c8ada" stroke="#3c8ada" stroke-width="0.16">0</text>
<line x1="395.0" y1="203.50" x2="398.5" y2="203.50" stroke="#3c8ada" stroke-width="0.9"/>
<text x="390.5" y="206.90" text-anchor="end" fill="#3c8ada" stroke="#3c8ada" stroke-width="0.16">10</text>
<line x1="650.5" y1="293.30" x2="654.0" y2="293.30" stroke="#f78c2b" stroke-width="0.9"/>
<text x="658.7" y="296.70" fill="#f78c2b" stroke="#f78c2b" stroke-width="0.16">-15</text>
<line x1="650.5" y1="250.10" x2="654.0" y2="250.10" stroke="#f78c2b" stroke-width="0.9"/>
<text x="658.7" y="253.50" fill="#f78c2b" stroke="#f78c2b" stroke-width="0.16">0</text>
<line x1="650.5" y1="206.90" x2="654.0" y2="206.90" stroke="#f78c2b" stroke-width="0.9"/>
<text x="658.7" y="210.30" fill="#f78c2b" stroke="#f78c2b" stroke-width="0.16">15</text>
<text x="413.30" y="310.60" text-anchor="middle" fill="#262626" stroke="#262626" stroke-width="0.16">-0.6</text>
<text x="465.80" y="310.60" text-anchor="middle" fill="#262626" stroke="#262626" stroke-width="0.16">-0.3</text>
<text x="518.30" y="310.60" text-anchor="middle" fill="#262626" stroke="#262626" stroke-width="0.16">0.0</text>
<text x="570.80" y="310.60" text-anchor="middle" fill="#262626" stroke="#262626" stroke-width="0.16">0.3</text>
<text x="623.30" y="310.60" text-anchor="middle" fill="#262626" stroke="#262626" stroke-width="0.16">0.6</text>
<text transform="translate(369.8,236.85) rotate(-90)" text-anchor="middle" fill="#3c8ada" stroke="#3c8ada" stroke-width="0.16" xml:space="preserve">Absolute ΔδPD (patches km<tspan dy="-6.6" font-size="6.6">−2</tspan><tspan dy="6.6" font-size="9.4">)</tspan></text>
<text transform="translate(683.1,236.85) rotate(-90)" text-anchor="middle" fill="#f78c2b" stroke="#f78c2b" stroke-width="0.16">Relative ΔδPD (%)</text>
<text x="380.40000000000003" y="169.80" font-weight="bold" font-size="10.4" fill="#1a1a1a" stroke="#1a1a1a" stroke-width="0.16">f</text>
<line x1="408.2" y1="194.40" x2="421.7" y2="194.40" stroke="#3c8ada" stroke-width="1.4" stroke-dasharray="5.5,2.6" opacity="0.8"/>
<text x="427.5" y="197.10" fill="#262626" stroke="#262626" stroke-width="0.16" xml:space="preserve">Trend: 14.4<tspan font-size="6.6" dy="-7" dx="0.4" stroke-width="0.12">* * *</tspan><tspan dy="7" dx="1.2" font-size="9.4">, R²=0.77</tspan></text>
<line x1="408.2" y1="210.50" x2="421.7" y2="210.50" stroke="#f78c2b" stroke-width="1.4" stroke-dasharray="5.5,2.6" opacity="0.8"/>
<text x="427.5" y="213.20" fill="#262626" stroke="#262626" stroke-width="0.16" xml:space="preserve">Trend: 24.7<tspan font-size="6.6" dy="-7" dx="0.4" stroke-width="0.12">* * *</tspan><tspan dy="7" dx="1.2" font-size="9.4">, R²=0.93</tspan></text>
</g>
<g id="pg">
<clipPath id="clipg"><rect x="398.5" y="336.3" width="252.0" height="116.89999999999998"/></clipPath>
<line x1="398.5" y1="368.80" x2="650.5" y2="368.80" stroke="#c2c2c2" stroke-width="1.0"/>
<line x1="518.3" y1="336.3" x2="518.3" y2="453.2" stroke="#c2c2c2" stroke-width="0.9"/>
<g clip-path="url(#clipg)">
<polygon points="402.0,352.0 410.0,345.0 418.0,338.0 422.0,336.3 426.0,340.0 428.0,345.0 430.0,336.3 432.0,345.0 436.0,350.0 440.0,343.0 444.0,348.0 444.0,356.0 440.0,358.0 436.0,360.0 432.0,362.0 428.0,368.0 424.0,358.0 418.0,362.0 410.0,368.0 402.0,376.0" fill="#3c8ada" fill-opacity="0.2" stroke="none"/>
<polygon points="598.0,400.0 604.0,402.0 610.0,406.0 616.0,404.0 622.0,408.0 628.0,410.0 634.0,414.0 638.0,420.0 638.0,445.0 632.0,448.0 626.0,446.0 620.0,440.0 612.0,432.0 604.0,422.0 598.0,412.0" fill="#3c8ada" fill-opacity="0.2" stroke="none"/>
<polyline points="443.5,352.5 445.4,351.1 447.3,356.3 449.7,353.9 452.1,356.8 455.9,356.3 458.7,352.5 460.6,354.4 463.8,354.7 467.6,355.9" fill="none" stroke="#3c8ada" stroke-opacity="0.2" stroke-width="3.5" stroke-linejoin="round" stroke-linecap="round"/>
<polyline points="403.2,363.9 420.8,341.6 424.1,350.6 427.9,366.3 430.7,348.2 433.6,355.8 436.4,356.3 439.3,349.7 441.7,355.4 443.5,352.5 445.4,351.1 447.3,356.3 449.7,353.9 452.1,356.8 455.9,356.3 458.7,352.5 460.6,354.4 463.8,354.7 467.6,355.9 471.4,354.7 475.7,357.6 479.0,356.6 483.7,357.6 488.5,357.6 491.3,358.8 498.0,359.9 502.7,361.6 507.4,364.5 512.2,368.5 516.9,371.8 518.8,373.2 521.7,378.4 526.7,385.2 531.5,392.8 536.2,399.9 541.0,407.0 545.7,414.1 550.5,419.8 552.8,421.1 557.1,419.8 560.0,414.6 562.8,409.4 566.6,406.1 569.4,398.5 573.2,393.7 578.0,390.9 581.8,394.2 584.6,392.0 587.0,393.2 589.7,398.1 592.0,397.0 595.5,397.0 600.2,404.0 603.7,411.6 606.0,411.6 608.4,417.4 611.9,420.9 614.8,427.9 617.7,424.4 620.1,425.6 624.8,433.2 628.3,432.6 631.2,430.3 635.3,448.4" fill="none" stroke="#3c8ada" stroke-width="1.7" stroke-linejoin="round" stroke-linecap="round"/>
<polygon points="402.0,340.0 410.0,340.0 418.0,338.0 422.0,336.3 426.0,345.0 430.0,352.0 434.0,350.0 438.0,352.0 440.0,356.0 440.0,372.0 436.0,370.0 432.0,376.0 428.0,392.0 424.0,390.0 420.0,380.0 414.0,375.0 408.0,382.0 402.0,388.0" fill="#f78c2b" fill-opacity="0.2" stroke="none"/>
<polygon points="598.0,410.0 602.0,400.0 606.0,395.0 608.0,408.0 612.0,410.0 616.0,404.0 620.0,406.0 624.0,412.0 628.0,410.0 632.0,420.0 638.0,418.0 646.0,413.0 646.0,453.2 624.0,453.2 614.0,440.0 606.0,428.0 600.0,420.0" fill="#f78c2b" fill-opacity="0.2" stroke="none"/>
<polyline points="439.8,358.2 441.7,369.1 444.5,359.6 447.3,367.7 449.7,359.1 452.1,364.4 455.9,362.5 458.7,358.2 461.6,360.6 462.8,360.4 467.6,359.5" fill="none" stroke="#f78c2b" stroke-opacity="0.2" stroke-width="4.5" stroke-linejoin="round" stroke-linecap="round"/>
<line x1="403.2" y1="341.0" x2="645.8" y2="432.2" stroke="#f78c2b" stroke-width="1.5" stroke-dasharray="4.8,2.7" opacity="0.78"/>
<polyline points="403.2,366.3 417.0,351.6 421.2,342.5 423.6,357.7 425.0,377.2 427.9,381.0 430.7,359.1 433.1,359.6 435.5,353.9 436.9,361.5 439.8,358.2 441.7,369.1 444.5,359.6 447.3,367.7 449.7,359.1 452.1,364.4 455.9,362.5 458.7,358.2 461.6,360.6 462.8,360.4 467.6,359.5 471.4,358.0 473.3,358.5 475.7,362.3 479.0,359.9 483.7,361.4 488.5,360.1 491.3,361.8 498.0,363.0 502.7,364.5 507.4,367.5 512.2,371.3 516.9,375.1 518.8,376.5 522.0,380.4 526.7,386.1 531.5,392.3 536.2,398.5 541.0,403.7 545.7,408.0 549.5,410.8 552.8,411.8 555.2,410.8 557.1,411.8 560.0,408.4 562.8,406.5 566.6,404.6 569.4,402.3 573.2,400.4 574.2,397.5 578.0,398.0 578.9,397.0 580.8,400.4 585.0,401.0 588.5,404.6 592.0,405.1 595.5,405.1 597.9,415.1 599.6,411.0 602.0,412.7 603.7,418.6 606.6,400.5 608.4,413.9 610.7,432.6 614.2,419.2 616.6,422.1 619.5,418.0 624.8,446.1 627.7,426.8 631.2,447.8 645.8,435.0" fill="none" stroke="#f78c2b" stroke-width="1.7" stroke-linejoin="round" stroke-linecap="round"/>
<line x1="405.6" y1="336.4" x2="635.3" y2="427.8" stroke="#3c8ada" stroke-width="1.5" stroke-dasharray="4.8,2.7" opacity="0.78"/>
</g>
<line x1="398.5" y1="336.3" x2="398.5" y2="453.55" stroke="#3c8ada" stroke-width="0.9"/>
<line x1="650.5" y1="336.3" x2="650.5" y2="453.55" stroke="#f78c2b" stroke-width="0.9"/>
<line x1="398.05" y1="453.55" x2="650.95" y2="453.55" stroke="#383838" stroke-width="0.9"/>
<line x1="395.0" y1="368.60" x2="398.5" y2="368.60" stroke="#3c8ada" stroke-width="0.9"/>
<text x="390.5" y="372.00" text-anchor="end" fill="#3c8ada" stroke="#3c8ada" stroke-width="0.16">0.0</text>
<line x1="395.0" y1="402.60" x2="398.5" y2="402.60" stroke="#3c8ada" stroke-width="0.9"/>
<text x="390.5" y="406.00" text-anchor="end" fill="#3c8ada" stroke="#3c8ada" stroke-width="0.16">-0.6</text>
<line x1="395.0" y1="436.60" x2="398.5" y2="436.60" stroke="#3c8ada" stroke-width="0.9"/>
<text x="390.5" y="440.00" text-anchor="end" fill="#3c8ada" stroke="#3c8ada" stroke-width="0.16">-1.2</text>
<line x1="650.5" y1="347.15" x2="654.0" y2="347.15" stroke="#f78c2b" stroke-width="0.9"/>
<text x="658.7" y="350.55" fill="#f78c2b" stroke="#f78c2b" stroke-width="0.16">8</text>
<line x1="650.5" y1="377.60" x2="654.0" y2="377.60" stroke="#f78c2b" stroke-width="0.9"/>
<text x="658.7" y="381.00" fill="#f78c2b" stroke="#f78c2b" stroke-width="0.16">0</text>
<line x1="650.5" y1="408.05" x2="654.0" y2="408.05" stroke="#f78c2b" stroke-width="0.9"/>
<text x="658.7" y="411.45" fill="#f78c2b" stroke="#f78c2b" stroke-width="0.16">-8</text>
<line x1="650.5" y1="438.50" x2="654.0" y2="438.50" stroke="#f78c2b" stroke-width="0.9"/>
<text x="658.7" y="441.90" fill="#f78c2b" stroke="#f78c2b" stroke-width="0.16">-16</text>
<text x="413.30" y="468.50" text-anchor="middle" fill="#262626" stroke="#262626" stroke-width="0.16">-0.6</text>
<text x="465.80" y="468.50" text-anchor="middle" fill="#262626" stroke="#262626" stroke-width="0.16">-0.3</text>
<text x="518.30" y="468.50" text-anchor="middle" fill="#262626" stroke="#262626" stroke-width="0.16">0.0</text>
<text x="570.80" y="468.50" text-anchor="middle" fill="#262626" stroke="#262626" stroke-width="0.16">0.3</text>
<text x="623.30" y="468.50" text-anchor="middle" fill="#262626" stroke="#262626" stroke-width="0.16">0.6</text>
<text transform="translate(368.1,394.75) rotate(-90)" text-anchor="middle" fill="#3c8ada" stroke="#3c8ada" stroke-width="0.16" xml:space="preserve">Absolute ΔδHeight (m)</text>
<text transform="translate(683.1,394.75) rotate(-90)" text-anchor="middle" fill="#f78c2b" stroke="#f78c2b" stroke-width="0.16">Relative ΔδHeight (%)</text>
<text x="378.8" y="327.70" font-weight="bold" font-size="10.4" fill="#1a1a1a" stroke="#1a1a1a" stroke-width="0.16">g</text>
<line x1="408.2" y1="424.70" x2="421.7" y2="424.70" stroke="#3c8ada" stroke-width="1.4" stroke-dasharray="5.5,2.6" opacity="0.8"/>
<text x="427.5" y="427.40" fill="#262626" stroke="#262626" stroke-width="0.16" xml:space="preserve">Trend: -1.2<tspan font-size="6.6" dy="-7" dx="0.4" stroke-width="0.12">* * *</tspan><tspan dy="7" dx="1.2" font-size="9.4">, R²=0.82</tspan></text>
<line x1="408.2" y1="440.80" x2="421.7" y2="440.80" stroke="#f78c2b" stroke-width="1.4" stroke-dasharray="5.5,2.6" opacity="0.8"/>
<text x="427.5" y="443.50" fill="#262626" stroke="#262626" stroke-width="0.16" xml:space="preserve">Trend: -17.4<tspan font-size="6.6" dy="-7" dx="0.4" stroke-width="0.12">* * *</tspan><tspan dy="7" dx="1.2" font-size="9.4">, R²=0.84</tspan></text>
</g>
<g id="ph">
<clipPath id="cliph"><rect x="398.5" y="494.2" width="252.0" height="116.80000000000001"/></clipPath>
<line x1="398.5" y1="520.90" x2="650.5" y2="520.90" stroke="#c2c2c2" stroke-width="1.0"/>
<line x1="518.3" y1="494.2" x2="518.3" y2="611.0" stroke="#c2c2c2" stroke-width="0.9"/>
<g clip-path="url(#cliph)">
<polygon points="402.0,540.0 408.0,532.0 414.0,525.0 418.0,512.0 421.0,497.0 424.0,505.0 427.0,495.0 430.0,494.2 434.0,500.0 437.0,505.0 440.0,505.0 444.0,510.0 444.0,518.0 440.0,520.0 437.0,522.0 434.0,518.0 431.0,522.0 428.0,536.0 425.0,530.0 421.0,540.0 416.0,552.0 410.0,565.0 402.0,580.0" fill="#3c8ada" fill-opacity="0.2" stroke="none"/>
<polygon points="627.3,572.0 631.0,572.0 631.0,611.0 627.3,611.0" fill="#3c8ada" fill-opacity="0.2" stroke="none"/>
<polyline points="444.5,512.5 447.8,522.0 452.1,513.9 455.4,519.1 458.7,517.2 460.0,516.6 463.8,517.6 467.1,517.1 469.5,519.0" fill="none" stroke="#3c8ada" stroke-opacity="0.2" stroke-width="3.5" stroke-linejoin="round" stroke-linecap="round"/>
<polyline points="590.7,536.5 592.9,540.8 596.5,543.7 599.3,546.5 601.5,553.7 603.7,551.6 606.5,551.6 608.0,555.9 610.1,580.3 613.0,568.8 615.1,580.3 617.3,560.9 619.4,563.8 622.3,588.1 624.5,606.1 627.3,590.3 630.9,596.0" fill="none" stroke="#3c8ada" stroke-opacity="0.2" stroke-width="6.0" stroke-linejoin="round" stroke-linecap="round"/>
<line x1="403.6" y1="504.2" x2="630.8" y2="557" stroke="#3c8ada" stroke-width="1.5" stroke-dasharray="4.8,2.7" opacity="0.78"/>
<polyline points="403.2,554.0 410.3,540.5 416.5,528.2 421.2,507.8 424.6,515.8 427.9,523.9 430.7,499.7 433.6,505.4 435.5,518.2 438.8,507.8 441.7,509.7 444.5,512.5 447.8,522.0 452.1,513.9 455.4,519.1 458.7,517.2 460.0,516.6 463.8,517.6 467.1,517.1 469.5,519.0 473.3,518.8 476.1,520.4 479.5,519.9 481.8,522.3 486.6,522.8 490.4,523.7 498.0,524.7 502.7,525.6 507.4,526.1 512.2,526.8 516.0,527.5 518.4,525.4 521.2,528.5 522.0,528.5 526.7,529.9 531.5,531.1 534.3,532.3 539.1,532.3 541.9,531.5 544.8,532.3 548.6,531.8 553.3,531.5 557.1,529.4 560.0,529.9 563.8,528.5 566.6,528.9 569.4,527.7 571.3,528.9 574.2,526.6 576.1,528.3 578.5,527.5 580.8,531.3 582.7,528.5 585.1,533.7 587.9,532.9 590.7,536.5 592.9,540.8 596.5,543.7 599.3,546.5 601.5,553.7 603.7,551.6 606.5,551.6 608.0,555.9 610.1,580.3 613.0,568.8 615.1,580.3 617.3,560.9 619.4,563.8 622.3,588.1 624.5,606.1 627.3,590.3 630.9,596.0" fill="none" stroke="#3c8ada" stroke-width="1.7" stroke-linejoin="round" stroke-linecap="round"/>
<polygon points="402.0,522.0 408.0,518.0 414.0,514.0 417.0,505.0 419.0,494.2 432.0,494.2 436.0,500.0 440.0,505.0 444.0,512.0 444.0,522.0 440.0,528.0 436.0,540.0 433.0,530.0 430.0,532.0 427.0,540.0 424.6,551.0 422.0,565.0 416.0,580.0 408.0,588.0 402.0,592.0" fill="#f78c2b" fill-opacity="0.2" stroke="none"/>
<polygon points="600.0,546.0 604.0,543.0 608.0,548.0 608.0,556.0 604.0,556.0 600.0,556.0" fill="#f78c2b" fill-opacity="0.2" stroke="none"/>
<polyline points="444.5,519.6 447.8,531.5 449.7,519.6 452.6,521.0 454.5,518.7 456.4,524.4 458.7,522.0 460.0,521.8 462.8,523.7 465.7,523.2 469.0,526.6" fill="none" stroke="#f78c2b" stroke-opacity="0.2" stroke-width="4.0" stroke-linejoin="round" stroke-linecap="round"/>
<polyline points="591.5,548.0 593.6,542.2 597.2,548.7 599.3,552.3 602.2,551.6 604.4,550.8 606.5,555.9 608.0,555.2 610.8,593.9 613.0,568.8 615.1,581.7 617.3,565.9 620.2,588.1 622.3,588.9 624.5,598.9 628.0,601.8 630.9,603.9 635.2,606.1" fill="none" stroke="#f78c2b" stroke-opacity="0.2" stroke-width="6.5" stroke-linejoin="round" stroke-linecap="round"/>
<line x1="403.6" y1="508.7" x2="635.6" y2="563.2" stroke="#f78c2b" stroke-width="1.5" stroke-dasharray="4.8,2.7" opacity="0.78"/>
<polyline points="403.2,543.8 416.5,535.3 421.2,537.2 424.6,515.4 427.4,504.4 430.3,503.5 432.6,511.1 435.5,531.0 439.3,499.7 441.7,516.3 444.5,519.6 447.8,531.5 449.7,519.6 452.6,521.0 454.5,518.7 456.4,524.4 458.7,522.0 460.0,521.8 462.8,523.7 465.7,523.2 469.0,526.6 472.3,524.9 476.6,528.0 479.9,527.0 482.8,530.6 488.5,530.2 493.2,530.8 498.0,531.3 502.7,531.8 507.4,532.1 512.2,532.1 516.9,531.8 518.4,530.8 520.7,532.7 522.0,532.7 526.7,533.4 531.5,534.4 534.3,534.9 539.1,535.9 541.9,535.3 544.8,535.6 548.6,535.1 553.3,534.6 557.1,533.4 560.0,533.0 563.8,534.2 566.6,533.7 569.4,534.0 572.3,532.7 574.2,533.2 576.1,531.3 578.5,533.7 582.7,534.2 585.1,538.9 587.9,538.7 591.5,548.0 593.6,542.2 597.2,548.7 599.3,552.3 602.2,551.6 604.4,550.8 606.5,555.9 608.0,555.2 610.8,593.9 613.0,568.8 615.1,581.7 617.3,565.9 620.2,588.1 622.3,588.9 624.5,598.9 628.0,601.8 630.9,603.9 635.2,606.1" fill="none" stroke="#f78c2b" stroke-width="1.7" stroke-linejoin="round" stroke-linecap="round"/>
</g>
<line x1="398.5" y1="494.2" x2="398.5" y2="611.35" stroke="#3c8ada" stroke-width="0.9"/>
<line x1="650.5" y1="494.2" x2="650.5" y2="611.35" stroke="#f78c2b" stroke-width="0.9"/>
<line x1="398.05" y1="611.35" x2="650.95" y2="611.35" stroke="#383838" stroke-width="0.9"/>
<line x1="395.0" y1="520.70" x2="398.5" y2="520.70" stroke="#3c8ada" stroke-width="0.9"/>
<text x="390.5" y="524.10" text-anchor="end" fill="#3c8ada" stroke="#3c8ada" stroke-width="0.16">0</text>
<line x1="395.0" y1="551.95" x2="398.5" y2="551.95" stroke="#3c8ada" stroke-width="0.9"/>
<text x="390.5" y="555.35" text-anchor="end" fill="#3c8ada" stroke="#3c8ada" stroke-width="0.16">-20</text>
<line x1="395.0" y1="583.20" x2="398.5" y2="583.20" stroke="#3c8ada" stroke-width="0.9"/>
<text x="390.5" y="586.60" text-anchor="end" fill="#3c8ada" stroke="#3c8ada" stroke-width="0.16">-40</text>
<line x1="650.5" y1="501.25" x2="654.0" y2="501.25" stroke="#f78c2b" stroke-width="0.9"/>
<text x="658.7" y="504.65" fill="#f78c2b" stroke="#f78c2b" stroke-width="0.16">8</text>
<line x1="650.5" y1="531.30" x2="654.0" y2="531.30" stroke="#f78c2b" stroke-width="0.9"/>
<text x="658.7" y="534.70" fill="#f78c2b" stroke="#f78c2b" stroke-width="0.16">0</text>
<line x1="650.5" y1="561.35" x2="654.0" y2="561.35" stroke="#f78c2b" stroke-width="0.9"/>
<text x="658.7" y="564.75" fill="#f78c2b" stroke="#f78c2b" stroke-width="0.16">-8</text>
<line x1="650.5" y1="591.40" x2="654.0" y2="591.40" stroke="#f78c2b" stroke-width="0.9"/>
<text x="658.7" y="594.80" fill="#f78c2b" stroke="#f78c2b" stroke-width="0.16">-16</text>
<text x="413.30" y="626.30" text-anchor="middle" fill="#262626" stroke="#262626" stroke-width="0.16">-0.6</text>
<text x="465.80" y="626.30" text-anchor="middle" fill="#262626" stroke="#262626" stroke-width="0.16">-0.3</text>
<text x="518.30" y="626.30" text-anchor="middle" fill="#262626" stroke="#262626" stroke-width="0.16">0.0</text>
<text x="570.80" y="626.30" text-anchor="middle" fill="#262626" stroke="#262626" stroke-width="0.16">0.3</text>
<text x="623.30" y="626.30" text-anchor="middle" fill="#262626" stroke="#262626" stroke-width="0.16">0.6</text>
<text transform="translate(369.9,552.60) rotate(-90)" text-anchor="middle" fill="#3c8ada" stroke="#3c8ada" stroke-width="0.16" xml:space="preserve">Absolute ΔδNPP (gC m<tspan dy="-6.6" font-size="6.6">−2</tspan><tspan dy="6.6" font-size="9.4"> yr</tspan><tspan dy="-6.6" font-size="6.6">−1</tspan><tspan dy="6.6" font-size="9.4"> )</tspan></text>
<text transform="translate(683.1,552.60) rotate(-90)" text-anchor="middle" fill="#f78c2b" stroke="#f78c2b" stroke-width="0.16">Relative ΔδNPP (%)</text>
<text x="378.8" y="485.60" font-weight="bold" font-size="10.4" fill="#1a1a1a" stroke="#1a1a1a" stroke-width="0.16">h</text>
<line x1="408.2" y1="583.30" x2="421.7" y2="583.30" stroke="#3c8ada" stroke-width="1.4" stroke-dasharray="5.5,2.6" opacity="0.8"/>
<text x="427.5" y="586.00" fill="#262626" stroke="#262626" stroke-width="0.16" xml:space="preserve">Trend: -26.1<tspan font-size="6.6" dy="-7" dx="0.4" stroke-width="0.12">* * *</tspan><tspan dy="7" dx="1.2" font-size="9.4">, R²=0.56</tspan></text>
<line x1="408.2" y1="599.40" x2="421.7" y2="599.40" stroke="#f78c2b" stroke-width="1.4" stroke-dasharray="5.5,2.6" opacity="0.8"/>
<text x="427.5" y="602.10" fill="#262626" stroke="#262626" stroke-width="0.16" xml:space="preserve">Trend: -11.1<tspan font-size="6.6" dy="-7" dx="0.4" stroke-width="0.12">* * *</tspan><tspan dy="7" dx="1.2" font-size="9.4">, R²=0.57</tspan></text>
</g>
<text x="176.2" y="6.9" text-anchor="middle" font-weight="bold" fill="#1a1a1a" stroke="#1a1a1a" stroke-width="0.16">Current state (2020)</text>
<text x="526.6" y="6.9" text-anchor="middle" font-weight="bold" fill="#1a1a1a" stroke="#1a1a1a" stroke-width="0.16">Temporal change (2000–2020)</text>
<text x="172" y="638.8" text-anchor="middle" fill="#262626" stroke="#262626" stroke-width="0.16">Human footprint index (dimensionless)</text>
<text x="524.3" y="638.8" text-anchor="middle" fill="#262626" stroke="#262626" stroke-width="0.16">Human footprint index (dimensionless)</text>
</svg></body></html>
